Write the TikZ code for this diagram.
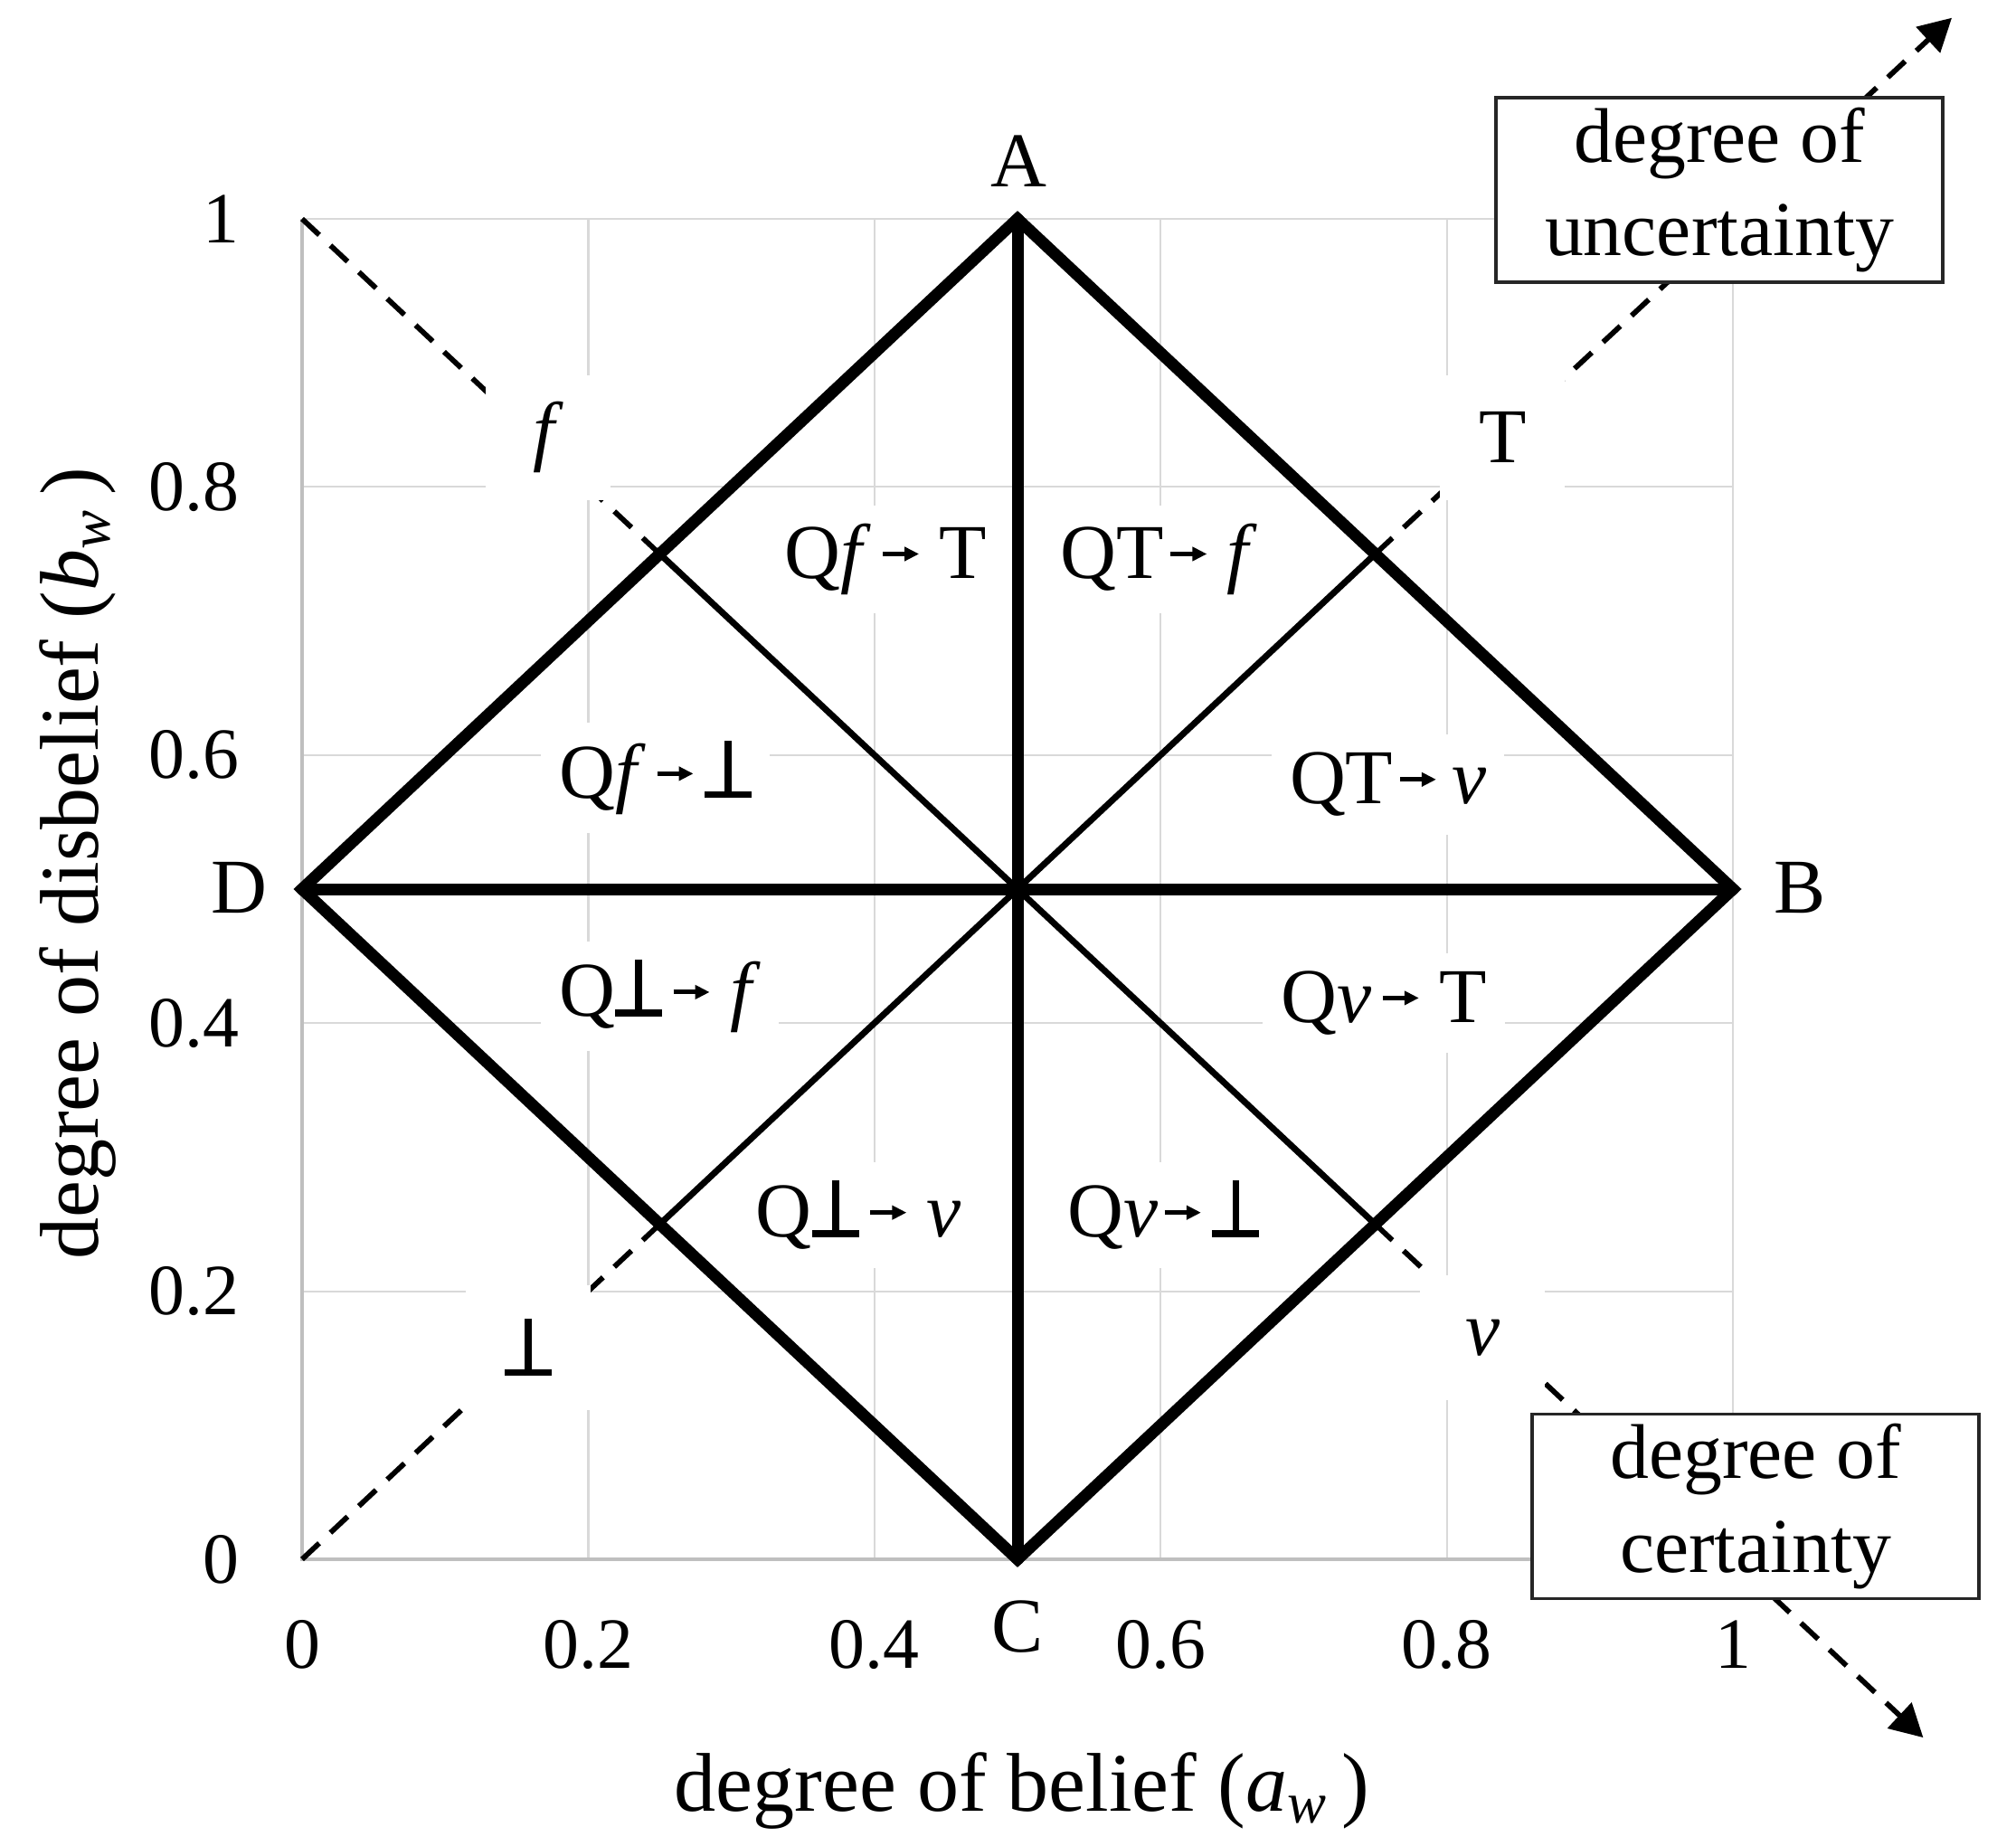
\documentclass[tikz,border=0pt]{standalone}
\usepackage{fontspec}
\setmainfont{Liberation Serif}
\usetikzlibrary{arrows.meta}
\newcommand{\mybot}{\hbox{\rlap{\rule{0.52cm}{0.075cm}}\hspace{0.2225cm}\rule{0.075cm}{0.63cm}\hspace{0.2225cm}}}
\newcommand{\sarrow}{\tikz[baseline=-0.27cm]{\draw[line width=0.05cm,-{Triangle[length=0.16cm,width=0.15cm]}] (0cm,0cm) -- (0.40cm,0cm);}}
\begin{document}
\begin{tikzpicture}[x=15.82cm,y=14.82cm,
  mainfont/.style={font=\fontsize{24.4pt}{29.5pt}\selectfont},
  mainfont,
  gridline/.style={draw=black!15,line width=0.022cm},
  axisline/.style={draw=black!25,line width=0.04cm},
  thickline/.style={line width=0.13cm,line cap=round},
  thinline/.style={line width=0.07cm},
  dashline/.style={line width=0.058cm,dash pattern=on 0.26cm off 0.17cm},
  tip/.style={-{Triangle[length=0.36cm,width=0.38cm]}},
  letterlabel/.style={fill=white,minimum width=1.38cm,minimum height=1.38cm,inner sep=0pt},
  regionlabel/.style={fill=white,inner sep=0.2cm},
  infobox/.style={draw=black!85,line width=0.033cm,fill=white,minimum width=4.94cm,minimum height=2.04cm,inner sep=0pt,align=center},
  ticklabel/.style={font=\fontsize{22.7pt}{27pt}\selectfont,inner sep=0pt},
  vertexlabel/.style={inner sep=0pt},
  axislabel/.style={font=\fontsize{26.2pt}{31pt}\selectfont,inner sep=0pt}]
\useasboundingbox (-3.34cm,-3.16cm) rectangle (18.95cm,17.24cm);
% grid
\foreach \v in {0.2,0.4,0.6,0.8,1} {
  \draw[gridline] (\v,0) -- (\v,1);
  \draw[gridline] (0,\v) -- (1,\v);
}
\draw[axisline] (0,1) -- (0,0) -- (1,0);
% coordinates
\coordinate (O) at (0,0);
\coordinate (TL) at (0,1);
\coordinate (M) at (0.5,0.5);
\coordinate (A) at (0.5,1);
\coordinate (B) at (1,0.5);
\coordinate (C) at (0.5,0);
\coordinate (D) at (0,0.5);
\coordinate (p1) at (0.25,0.75);
\coordinate (p2) at (0.75,0.75);
\coordinate (p3) at (0.25,0.25);
\coordinate (p4) at (0.75,0.25);
\coordinate (tipU) at (1.153,1.15);
\coordinate (tipC) at (1.133,-0.133);
% dashed diagonals
\draw[dashline] (TL) -- (p1);
\draw[dashline] (O) -- (p3);
\draw[dashline,tip] (p2) -- (tipU);
\draw[dashline,tip] (p4) -- (tipC);
% letter labels on diagonals
\node[letterlabel] (lf) at (0.172,0.837) {\textit{f}};
\node[letterlabel] (lT) at (0.839,0.837) {T};
\node[letterlabel] (lbot) at (0.158,0.158) {\mybot};
\node[letterlabel] (lv) at (0.825,0.165) {\textit{v}};
% boxes
\node[infobox] (unc) at (0.9905,1.0216) {degree of\\uncertainty};
\node[infobox] (cer) at (1.0158,0.0395) {degree of\\certainty};
% region labels
\node[regionlabel] (r1) at (0.408,0.746) {Q\textit{f}\hspace{0.1cm}\sarrow\hspace{0.2cm}T};
\node[regionlabel] (r2) at (0.599,0.746) {QT\hspace{0.05cm}\sarrow\hspace{0.2cm}\textit{f}};
\node[regionlabel] (r3) at (0.247,0.583) {Q\textit{f}\hspace{0.1cm}\sarrow\hspace{0.1cm}\mybot};
\node[regionlabel] (r4) at (0.759,0.578) {QT\hspace{0.05cm}\sarrow\hspace{0.15cm}\textit{v}};
\node[regionlabel] (r5) at (0.25,0.42) {Q\mybot\hspace{0.1cm}\sarrow\hspace{0.2cm}\textit{f}};
\node[regionlabel] (r6) at (0.756,0.415) {Q\textit{v}\hspace{0.1cm}\sarrow\hspace{0.2cm}T};
\node[regionlabel] (r7) at (0.389,0.257) {Q\mybot\hspace{0.1cm}\sarrow\hspace{0.2cm}\textit{v}};
\node[regionlabel] (r8) at (0.602,0.257) {Q\textit{v}\hspace{0.05cm}\sarrow\hspace{0.1cm}\mybot};
% diamond
\draw[thickline] (A) -- (B) -- (C) -- (D) -- cycle;
\draw[thickline] (A) -- (C);
\draw[thickline] (D) -- (B);
\draw[thinline] (p1) -- (M) -- (p4);
\draw[thinline] (p2) -- (M) -- (p3);
% vertex labels
\node[vertexlabel] (la) at (0.501,1.043) {A};
\node[vertexlabel] (lb) at (1.047,0.501) {B};
\node[vertexlabel] (lc) at (0.5,-0.05) {C};
\node[vertexlabel] (ld) at (-0.044,0.501) {D};
% ticks
\foreach \v/\t in {0/0,0.2/0.2,0.4/0.4,0.6/0.6,0.8/0.8,1/1} {
  \node[ticklabel,anchor=base] (xt\t) at (\v,-0.0816) {\t};
  \node[ticklabel,anchor=east] (yt\t) at (-0.0436,\v) {\t};
}
% axis labels
\node[axislabel,anchor=base] (xlab) at (0.503,-0.1876) {degree of belief (\textit{a}\textsubscript{\textit{w}}\,)};
\node[axislabel,rotate=90] (ylab) at (-0.157,0.519) {degree of disbelief (\textit{b}\textsubscript{\textit{w}}\,)};
\end{tikzpicture}
\end{document}
